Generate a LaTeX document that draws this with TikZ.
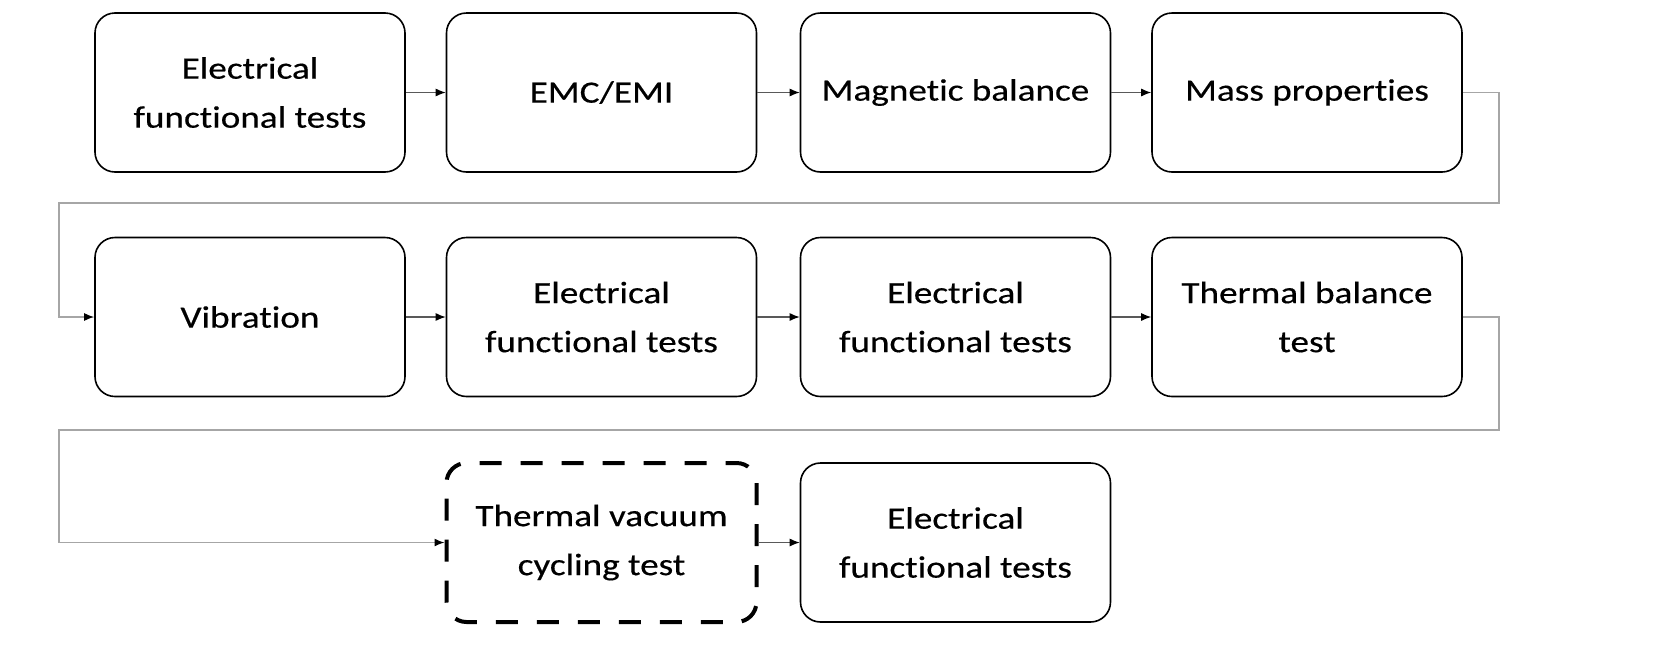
\documentclass[tikz,border=0pt]{standalone}
\usepackage{fontspec}
\setmainfont{Carlito}[FakeStretch=1.2,FakeBold=0.4,Ligatures=NoCommon]
\usetikzlibrary{arrows.meta}
\begin{document}
\begin{tikzpicture}[x=1pt,y=-1pt,
  box/.style={draw=black,line width=1.6pt,rounded corners=20pt,minimum width=310pt,minimum height=159pt,
    align=center,inner sep=0pt,font=\fontsize{31}{49}\selectfont},
  dbox/.style={box,line width=4pt,dash pattern=on 22pt off 19pt,dash phase=11pt},
  link/.style={draw=black!65,line width=1.2pt,-{Latex[length=10pt,width=8pt,black]}},
  loop/.style={draw=black!35,line width=1.4pt,-{Latex[length=10pt,width=8pt,black]}}]
\useasboundingbox[fill=white] (0,0) rectangle (1653,654);
\node[box] (a1) at (250,92.5) {Electrical\\functional tests};
\node[box] (a2) at (601.5,92.5) {EMC/EMI};
\node[box] (a3) at (955.5,92.5) {Magnetic balance};
\node[box] (a4) at (1307,92.5) {Mass properties};
\node[box] (b1) at (250,317) {Vibration};
\node[box] (b2) at (601.5,317) {Electrical\\functional tests};
\node[box] (b3) at (955.5,317) {Electrical\\functional tests};
\node[box] (b4) at (1307,317) {Thermal balance\\test};
\node[dbox] (c1) at (601.5,542.5) {Thermal vacuum\\cycling test};
\node[box] (c2) at (955.5,542.5) {Electrical\\functional tests};
\draw[link] (a1) -- (a2);
\draw[link] (a2) -- (a3);
\draw[link] (a3) -- (a4);
\draw[link] (b1) -- (b2);
\draw[link] (b2) -- (b3);
\draw[link] (b3) -- (b4);
\draw[link] (c1) -- (c2);
\draw[loop] (a4.east) -- (1499,92.5) -- (1499,203) -- (59,203) -- (59,317) -- (b1.west);
\draw[loop] (b4.east) -- (1499,317) -- (1499,430) -- (59,430) -- (59,542.5) -- (c1.west);
\end{tikzpicture}
\end{document}
